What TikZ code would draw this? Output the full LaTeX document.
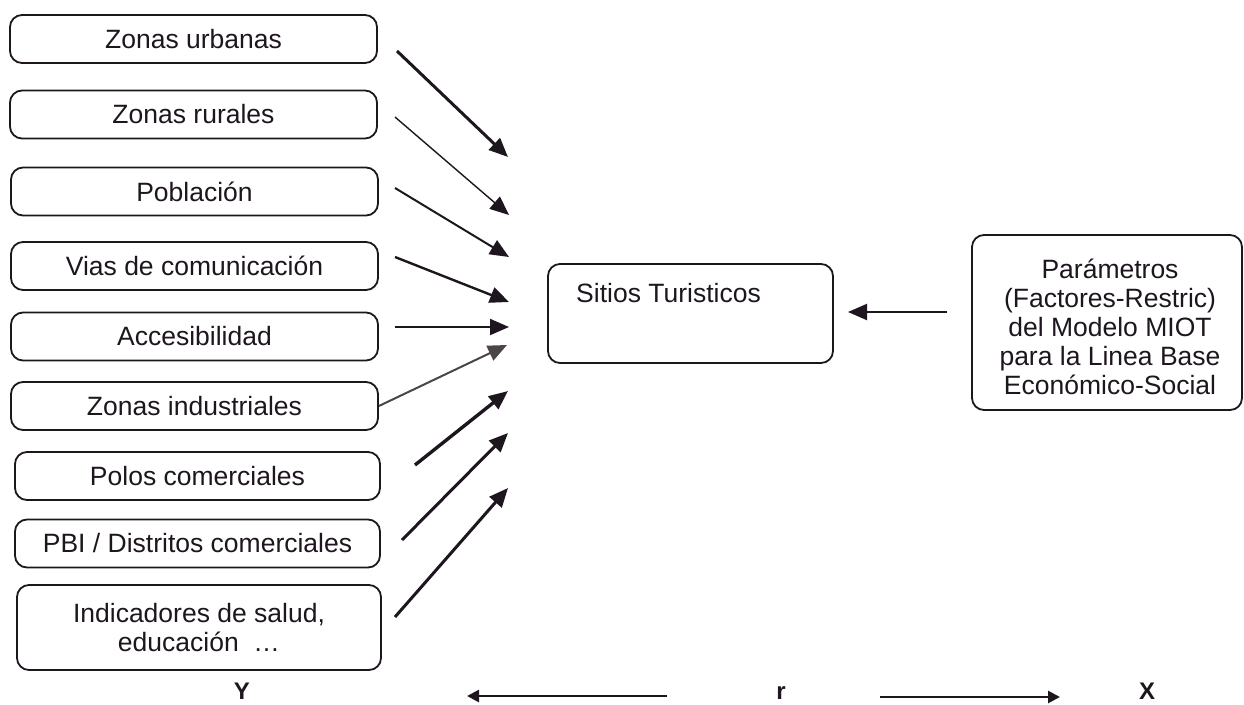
\documentclass[tikz,border=0pt]{standalone}
\usepackage{fontspec}
\setmainfont{Liberation Sans}
\usetikzlibrary{arrows.meta}
\definecolor{ink}{HTML}{1E161E}
\begin{document}
\begin{tikzpicture}[x=1pt,y=-1pt,
  txt/.style={font=\fontsize{26.5}{29}\selectfont, text=ink},
  inbox/.style={txt, draw=ink, line width=1.8pt, rounded corners=12pt,
    inner sep=0pt, align=center},
  leftbox/.style={inbox, minimum width=367pt, minimum height=48pt},
  flow/.style={draw=ink, -{Triangle[length=19pt,width=16pt]}},
  axis/.style={draw=ink, line width=2.6pt, -{Triangle[length=12pt,width=12pt]}},
  axlabel/.style={font=\fontsize{24}{26}\selectfont\bfseries, text=ink,
    anchor=base, inner sep=0pt},
]
\useasboundingbox (0,0) rectangle (1244,704);

% input factors on the left
\node[leftbox] (zu) at (193.5,39)    {Zonas urbanas};
\node[leftbox] (zr) at (193.5,114.5) {Zonas rurales};
\node[leftbox] (po) at (194.5,191.5) {Población};
\node[leftbox] (vc) at (194.5,266)   {Vias de comunicación};
\node[leftbox] (ac) at (194.5,336.5) {Accesibilidad};
\node[leftbox] (zi) at (194.5,406)   {Zonas industriales};
\node[leftbox, minimum width=365pt] (pc) at (197.5,476)   {Polos comerciales};
\node[leftbox, minimum width=365pt] (pb) at (197.5,543.5) {PBI / Distritos comerciales};
\node[leftbox, minimum width=364pt, minimum height=85pt] (is) at (199,627.5)
  {Indicadores de salud,\\educación\ \ \ldots};

% target and parameter boxes
\node[inbox, minimum width=285pt, minimum height=99pt] (st) at (690.5,313.5) {};
\node[txt, anchor=base west, inner sep=0pt] (stlabel) at (576,302) {Sitios Turisticos};
\node[inbox, minimum width=270pt, minimum height=175pt] (pm) at (1107,322.5) {};
\node[txt, align=center, inner sep=0pt] (pmlabel) at (1110,327)
  {Parámetros\\(Factores-Restric)\\del Modelo MIOT\\para la Linea Base\\Económico-Social};

% arrow ends
\coordinate (s1) at (397,51);  \coordinate (t1) at (508,157);
\coordinate (s2) at (395,117); \coordinate (t2) at (509,215);
\coordinate (s3) at (395,188); \coordinate (t3) at (509,257);
\coordinate (s4) at (395,257); \coordinate (t4) at (509,302);
\coordinate (s5) at (395,327); \coordinate (t5) at (509,327);
\coordinate (s6) at (zi.east); \coordinate (t6) at (507,345);
\coordinate (s7) at (415,465); \coordinate (t7) at (508,391);
\coordinate (s8) at (402,540); \coordinate (t8) at (508,433);
\coordinate (s9) at (395,617); \coordinate (t9) at (508,488);

\draw[flow, line width=3pt]   (s1) -- (t1);
\draw[flow, line width=1.4pt] (s2) -- (t2);
\draw[flow, line width=2pt]   (s3) -- (t3);
\draw[flow, line width=2.4pt] (s4) -- (t4);
\draw[flow, line width=2pt]   (s5) -- (t5);
\draw[flow, line width=2pt, draw=ink!80] (s6) -- (t6);
\draw[flow, line width=3.4pt] (s7) -- (t7);
\draw[flow, line width=3pt]   (s8) -- (t8);
\draw[flow, line width=3pt]   (s9) -- (t9);

\coordinate (ptail) at (947,312);
\coordinate (phead) at (848,312);
\draw[flow, line width=2pt] (ptail) -- (phead);

% bottom axis labels
\node[axlabel] (ly) at (242,699) {Y};
\node[axlabel] (lr) at (781,699) {r};
\node[axlabel] (lx) at (1147,699) {X};
\coordinate (al0) at (667,696); \coordinate (al1) at (467,696);
\coordinate (ar0) at (880,697); \coordinate (ar1) at (1060,697);
\draw[axis] (al0) -- (al1);
\draw[axis] (ar0) -- (ar1);
\end{tikzpicture}
\end{document}
